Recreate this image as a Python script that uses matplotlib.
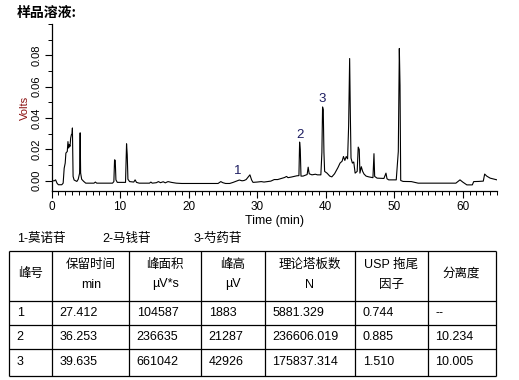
import matplotlib
matplotlib.use("Agg")
import matplotlib.pyplot as plt
from matplotlib.ticker import MultipleLocator

# chromatogram trace (time in min, signal in volts)
time_min = [0.0, 0.4, 0.6, 0.8, 1.0, 1.5, 1.7, 1.85, 2.0, 2.1, 2.3, 2.4, 2.5, 2.6, 2.7, 2.8, 2.9, 3.0, 3.05,
            3.15, 3.3, 3.7, 3.9, 4.1, 4.18, 4.25, 4.4, 4.7, 5.0, 6.2, 6.4, 6.6, 8.9, 9.1, 9.2, 9.3, 9.4, 9.6,
            10.8, 10.95, 11.05, 11.15, 11.4, 12.0, 12.2, 12.4, 12.8, 14.3, 14.5, 14.7, 15.3, 15.6, 15.9, 16.3,
            16.6, 17.0, 17.5, 18.2, 19.0, 24.3, 24.7, 25.0, 25.4, 26.0, 26.5, 27.0, 27.4, 27.8, 28.1, 28.4,
            28.8, 28.95, 29.2, 29.4, 30.0, 30.6, 31.0, 32.0, 32.5, 33.0, 33.8, 34.0, 34.3, 34.5, 35.0, 35.8,
            36.1, 36.2, 36.3, 36.4, 36.7, 37.3, 37.45, 37.6, 38.0, 38.5, 38.8, 39.3, 39.45, 39.55, 39.65,
            39.75, 39.85, 40.2, 40.6, 40.9, 41.3, 41.8, 42.1, 42.4, 42.6, 42.8, 43.0, 43.2, 43.35, 43.5, 43.6,
            43.7, 43.9, 44.1, 44.3, 44.6, 44.75, 44.9, 45.0, 45.2, 45.4, 45.6, 45.9, 46.3, 46.9, 47.05, 47.15,
            47.5, 48.5, 48.8, 48.95, 49.2, 50.3, 50.6, 50.75, 50.85, 50.95, 51.3, 52.5, 53.5, 59.0, 59.6, 60.0,
            60.6, 61.4, 61.6, 62.3, 63.0, 63.2, 63.5, 64.0, 65.0]
volts = [0.0, 0.0, 0.0006, -0.0015, -0.0025, -0.0025, -0.0015, 0.008, 0.0113, 0.0177, 0.0187, 0.025, 0.0209,
         0.023, 0.022, 0.0273, 0.0294, 0.03, 0.0337, 0.0028, 0.0005, -0.0004, 0.001, 0.0049, 0.0306, 0.005,
         0.001, -0.0004, -0.0015, -0.0015, -0.0008, -0.0015, -0.0015, -0.0005, 0.0134, 0.013, 0.0006, -0.001,
         -0.001, 0.0236, 0.0166, 0.001, -0.0005, -0.0008, 0.0006, -0.001, -0.0015, -0.0015, -0.0008, -0.0015,
         -0.0012, -0.0005, -0.0012, -0.0006, -0.0013, -0.0005, -0.001, -0.0015, -0.0017, -0.0017, -0.0005,
         -0.0012, -0.0017, -0.0017, -0.001, -0.0002, 0.0005, 0.0, 0.0002, 0.0008, 0.003, 0.0038, 0.0005,
         -0.001, -0.0008, -0.0005, -0.0008, -0.0002, 0.0008, 0.0008, 0.0018, 0.0021, 0.0028, 0.002, 0.0024,
         0.0032, 0.0033, 0.0247, 0.0198, 0.003, 0.003, 0.004, 0.0087, 0.0045, 0.0038, 0.0042, 0.0038, 0.0038,
         0.018, 0.0471, 0.0454, 0.018, 0.006, 0.0049, 0.003, 0.0025, 0.0045, 0.0085, 0.0113, 0.0125, 0.0155,
         0.013, 0.0155, 0.014, 0.0347, 0.078, 0.0428, 0.0145, 0.0113, 0.012, 0.0049, 0.006, 0.0215, 0.02,
         0.0049, 0.009, 0.006, 0.0043, 0.003, 0.0025, 0.002, 0.0173, 0.0028, 0.0017, 0.0015, 0.0049, 0.0013,
         0.0006, 0.0006, 0.0187, 0.0844, 0.0607, 0.0002, -0.0004, -0.0005, -0.0015, -0.0015, 0.0006, -0.0008,
         -0.0026, -0.0026, -0.0005, -0.0004, -0.0002, 0.0043, 0.003, 0.0017, 0.0006]

peak_labels = ["1", "2", "3"]
peak_label_t = [27.2, 36.2, 39.5]
peak_label_v = [0.0060, 0.0294, 0.0522]

compound_names = ["1-莫诺苷", "2-马钱苷", "3-芍药苷"]

header_line1 = ["峰号", "保留时间", "峰面积", "峰高", "理论塔板数", "USP 拖尾", "分离度"]
header_line2 = ["", "min", "µV*s", "µV", "N", "因子", ""]
peak_no = ["1", "2", "3"]
ret_time = ["27.412", "36.253", "39.635"]
peak_area = ["104587", "236635", "661042"]
peak_height = ["1883", "21287", "42926"]
plates = ["5881.329", "236606.019", "175837.314"]
tailing = ["0.744", "0.885", "1.510"]
resolution = ["--", "10.234", "10.005"]

W, H = 519, 380
fig = plt.figure(figsize=(W / 100, H / 100), dpi=100)
fig.patch.set_facecolor("white")

latin = ["Liberation Sans", "Noto Sans CJK SC"]

# --- chromatogram ---
ax = fig.add_axes([51.5 / W, 1 - 191 / H, 445.5 / W, 167 / H])
ax.plot(time_min, volts, color="black", lw=0.8)
ax.set_xlim(0, 65)
ax.set_ylim(-0.0065, 0.1)
for s in ["top", "right"]:
    ax.spines[s].set_visible(False)
for s in ["left", "bottom"]:
    ax.spines[s].set_linewidth(0.9)
ax.xaxis.set_major_locator(MultipleLocator(10))
ax.xaxis.set_minor_locator(MultipleLocator(1))
ax.yaxis.set_major_locator(MultipleLocator(0.02))
ax.yaxis.set_minor_locator(MultipleLocator(0.01))
ax.set_yticks([0, 0.02, 0.04, 0.06, 0.08])
ax.set_yticklabels(["0.00", "0.02", "0.04", "0.06", "0.08"], rotation=90, va="center")
ax.tick_params(which="major", length=5, width=0.8, labelsize=8, pad=2)
ax.tick_params(axis="x", which="major", labelsize=8.5)
ax.tick_params(which="minor", length=3, width=0.7)
for lab in ax.get_xticklabels() + ax.get_yticklabels():
    lab.set_fontfamily(latin)
ax.set_xlabel("Time (min)", fontsize=9, family=latin, labelpad=1.5)
ax.set_ylabel("Volts", fontsize=8, family=latin, color="#8b1010", labelpad=1)
for lab, t, v in zip(peak_labels, peak_label_t, peak_label_v):
    ax.text(t, v, lab, fontsize=9.5, family=latin, color="#1c1c60", ha="center", va="center")

# --- page overlay: title, names, table (pixel coordinates) ---
ov = fig.add_axes([0, 0, 1, 1])
ov.set_xlim(0, W)
ov.set_ylim(H, 0)
ov.axis("off")

ov.text(17, 12.5, "样品溶液:", fontsize=10, fontweight="bold",
        family=["Noto Sans CJK SC", "DejaVu Sans"], va="center", ha="left")
for name, x in zip(compound_names, [17, 102, 194]):
    ov.text(x, 239, name, fontsize=9, family=latin, va="center", ha="left")

col_edges = [9.3, 52.3, 129.3, 201.3, 264.7, 355.3, 427.7, 495.7]
row_edges = [251, 301, 325, 349, 375.7]
for x in col_edges:
    ov.plot([x, x], [row_edges[0], row_edges[-1]], color="black", lw=0.9, solid_capstyle="butt")
for y in row_edges:
    ov.plot([col_edges[0], col_edges[-1]], [y, y], color="black", lw=0.9, solid_capstyle="butt")

for i, (l1, l2) in enumerate(zip(header_line1, header_line2)):
    cx = (col_edges[i] + col_edges[i + 1]) / 2
    if l2:
        ov.text(cx, 265, l1, fontsize=9, family=latin, ha="center", va="center")
        ov.text(cx, 284.5, l2, fontsize=9, family=latin, ha="center", va="center")
    else:
        ov.text(cx, 274, l1, fontsize=9, family=latin, ha="center", va="center")

columns = [peak_no, ret_time, peak_area, peak_height, plates, tailing, resolution]
for r in range(3):
    cy = (row_edges[r + 1] + row_edges[r + 2]) / 2
    for c, col in enumerate(columns):
        ov.text(col_edges[c] + 7.5, cy, col[r], fontsize=9, family=latin, ha="left", va="center")

fig.savefig("out.png", dpi=100)
